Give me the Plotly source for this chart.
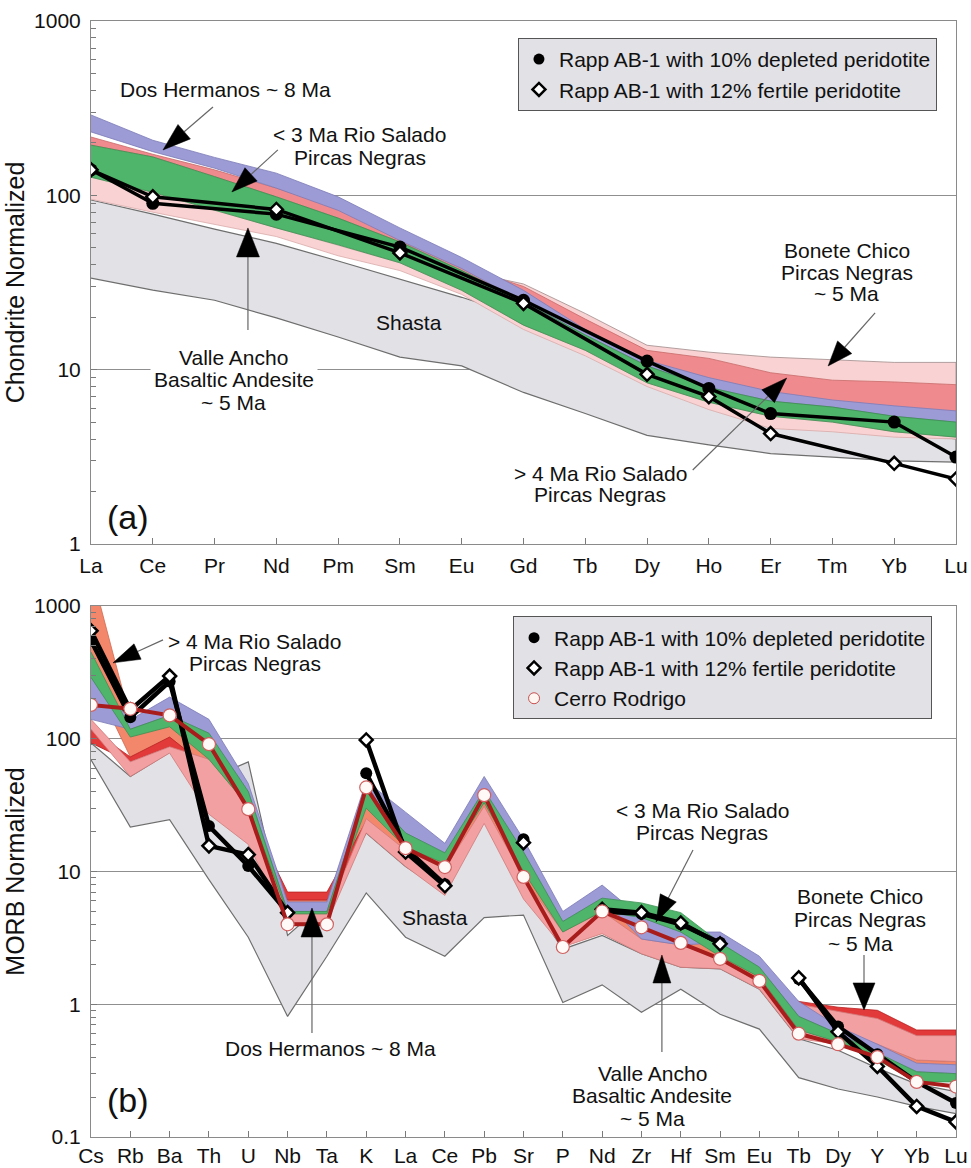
import math
import plotly.graph_objects as go

# ---------------- (a) chondrite-normalized REE ----------------
ree = ["La", "Ce", "Pr", "Nd", "Pm", "Sm", "Eu", "Gd", "Tb", "Dy", "Ho", "Er", "Tm", "Yb", "Lu"]

shasta_a_hi = [94, 78, 64, 53, 42, 33, 26, 20, 15, 11, 8.5, 6.3, 5.1, 4.4, 4.0]
shasta_a_lo = [33.5, 28.6, 25, 19.8, 15.4, 11.8, 10.5, 7.4, 5.6, 4.2, 3.7, 3.3, 3.15, 3.0, 2.95]
valle_a_hi = [127, 104, 82, 65, 52, 41, 28.5, 18, 12.9, 8.4, 6.5, 5.4, 5.0, 4.4, 4.1]
valle_a_lo = [95, 80, 68, 58, 45, 37, 27, 17, 12, 8.0, 5.9, 4.6, 4.4, 4.1, 4.0]
bonete_a_hi = [180, 150, 120, 95, 70, 52, 37, 31, 21, 13.8, 12.6, 11.8, 11.4, 11.0, 11.0]
bonete_a_lo = [130, 110, 90, 70, 55, 43, 30, 20, 13, 9, 7, 6, 5.5, 5, 4.5]
rs_old_a_hi = [216, 172, 140, 110, 84, 57, 39, 30, 19.5, 12.9, 11.6, 9.6, 8.7, 8.5, 8.2]
rs_old_a_lo = [194, 166, 128, 98, 74, 54, 37, 24.5, 15.8, 10.5, 7.9, 6.6, 6.1, 5.4, 5.0]
dos_a_hi = [289, 207, 165, 134, 98, 65, 44, 28.5, 17, 11.3, 9.0, 7.5, 6.7, 6.2, 5.8]
dos_a_lo = [231, 178, 143, 110, 82, 55, 38, 24.5, 15.8, 10.5, 7.9, 6.6, 6.1, 5.4, 5.0]
rs_young_a_hi = [194, 166, 128, 98, 74, 54, 37, 24.5, 15.8, 10.5, 7.9, 6.6, 6.1, 5.4, 5.0]
rs_young_a_lo = [127, 104, 82, 65, 52, 41, 28.5, 18, 12.9, 8.4, 6.5, 5.4, 5.0, 4.4, 4.1]
rapp10_a = [140, 90, None, 78, None, 50.5, None, 25, None, 11.2, 7.8, 5.6, None, 5.0, 3.15]
rapp12_a = [140, 98, None, 83, None, 46.7, None, 24, None, 9.4, 7.0, 4.3, None, 2.9, 2.36]

# ---------------- (b) MORB-normalized spider diagram ----------------
spider = ["Cs", "Rb", "Ba", "Th", "U", "Nb", "Ta", "K", "La", "Ce", "Pb", "Sr",
          "P", "Nd", "Zr", "Hf", "Sm", "Eu", "Tb", "Dy", "Y", "Yb", "Lu"]

shasta_b_hi = [93, 52, 79, 50, 67, 3.3, 6.0, 19.5, 10.9, 7.0, 24.6, 7.3, 2.6, 3.3, 2.4, 1.9, 1.85, 1.3, 0.55, 0.45, 0.33, 0.25, 0.22]
shasta_b_lo = [69.5, 21.6, 24.6, 8.7, 3.2, 0.81, 2.3, 6.9, 3.2, 2.3, 4.5, 4.7, 1.03, 1.4, 0.87, 1.3, 0.84, 0.65, 0.28, 0.23, 0.2, 0.17, 0.15]
rs_old_b_hi = [1870, 140, 150, 100, 38, 6.1, 6.1, 38, 18, 12.5, 36, 12, 4.0, 6.0, 4.5, 3.4, 2.8, 1.8, 0.9, 0.7, 0.52, 0.38, 0.37]
rs_old_b_lo = [300, 73, 90, 40, 18, 4.5, 4.5, 21, 11.5, 7, 24, 6.5, 2.8, 3.5, 2.5, 2.0, 1.9, 1.35, 0.6, 0.5, 0.45, 0.34, 0.33]
bonete_b_hi = [118, 73, 103, 60, 28, 7.0, 7.0, 24, 14, 10, 30, 8.5, 3.3, 4.8, 3.0, 2.7, 2.1, 1.45, 1.05, 0.95, 0.9, 0.64, 0.64]
bonete_b_lo = [93, 67, 87, 35, 18, 6.1, 6.1, 20, 11.5, 7, 24, 6.5, 2.8, 3.5, 2.5, 2.0, 1.9, 1.35, 0.7, 0.7, 0.6, 0.45, 0.45]
valle_b_hi = [140, 67, 87, 70, 31, 4.8, 4.8, 25, 14.5, 10.5, 31, 9, 3.5, 5.0, 3.1, 2.8, 2.2, 1.5, 1.0, 0.88, 0.78, 0.58, 0.58]
valle_b_lo = [118, 52, 78, 27, 16, 4.1, 4.1, 19.5, 10.9, 6.6, 23, 6.2, 2.7, 3.4, 2.4, 1.9, 1.85, 1.3, 0.55, 0.5, 0.5, 0.38, 0.37]
dos_b_hi = [290, 139, 206, 140, 46, 5.9, 5.9, 48, 28, 16.3, 52, 17.5, 5.0, 7.9, 4.5, 3.5, 3.5, 2.3, 1.05, 0.68, 0.5, 0.36, 0.35]
dos_b_lo = [140, 118, 150, 110, 40, 5.0, 5.0, 41, 19.5, 13.8, 41, 14, 4.2, 6.3, 3.1, 2.8, 2.9, 1.9, 0.81, 0.6, 0.43, 0.31, 0.3]
rs_young_b_hi = [450, 118, 150, 110, 40, 5.0, 5.0, 41, 19.5, 13.8, 41, 14, 4.2, 6.3, 5.8, 4.9, 2.9, 1.9, 0.81, 0.6, 0.43, 0.31, 0.3]
rs_young_b_lo = [290, 103, 123, 70, 31, 4.8, 4.8, 30, 15.2, 11.5, 33, 10, 3.5, 5.0, 4.5, 3.5, 2.3, 1.6, 0.64, 0.52, 0.38, 0.26, 0.26]
rapp10_b = [550, 145, 270, 22, 11, 4.9, None, 55, 15, 8.0, None, 17.5, None, 5.0, 4.8, 4.0, 2.9, None, 1.55, 0.68, 0.42, 0.26, 0.18]
rapp12_b = [650, 165, 297, 15.6, 13.4, 4.9, None, 98, 14, 7.8, None, 16.5, None, 5.2, 4.9, 4.1, 2.85, None, 1.58, 0.62, 0.34, 0.17, 0.13]
cerro = [180, 168, 150, 91, 29.5, 4.0, 4.0, 43, 15, 10.8, 37.6, 9.1, 2.7, 5.0, 3.8, 2.9, 2.2, 1.5, 0.6, 0.5, 0.4, 0.26, 0.24]

FONT = "Liberation Sans, Arial, Helvetica, sans-serif"
GRAY_FILL, GRAY_EDGE = "#e2e2e6", "#6e6e6e"
BLUE, GREEN = "#9c9bd6", "#4fb56b"
LIGHT_PINK, SALMON = "#f9d3d3", "#ef8b8e"
ORANGE, RED, PINK = "#f2876c", "#e23a3b", "#f3a0a2"

fig = go.Figure()


def band(cats, hi, lo, fill, edge, ax, width=0.8):
    xs = list(cats) + list(cats)[::-1]
    ys = list(hi) + list(lo)[::-1]
    fig.add_trace(go.Scatter(
        x=xs, y=ys, mode="lines", fill="toself", fillcolor=fill,
        line=dict(color=edge, width=width), hoverinfo="skip", showlegend=False,
        xaxis="x" + ax, yaxis="y" + ax))


# panel (a) envelopes, back to front
band(ree, shasta_a_hi, shasta_a_lo, GRAY_FILL, GRAY_EDGE, "", 1.2)
band(ree, valle_a_hi, valle_a_lo, LIGHT_PINK, "#d9a9a9", "")
band(ree, bonete_a_hi, bonete_a_lo, LIGHT_PINK, "#a08a8a", "")
band(ree, rs_old_a_hi, rs_old_a_lo, SALMON, "#c86a6a", "")
band(ree, dos_a_hi, dos_a_lo, BLUE, "#7c7bb6", "")
band(ree, rs_young_a_hi, rs_young_a_lo, GREEN, "#3c8f52", "")

fig.add_trace(go.Scatter(
    x=ree, y=rapp10_a, mode="lines+markers", connectgaps=True,
    line=dict(color="black", width=3.5),
    marker=dict(symbol="circle", size=13, color="black"),
    showlegend=False, hoverinfo="skip", xaxis="x", yaxis="y"))
fig.add_trace(go.Scatter(
    x=ree, y=rapp12_a, mode="lines+markers", connectgaps=True,
    line=dict(color="black", width=3.5),
    marker=dict(symbol="diamond", size=10, color="white", line=dict(color="black", width=2.5)),
    showlegend=False, hoverinfo="skip", xaxis="x", yaxis="y"))

# panel (b) envelopes, back to front
band(spider, shasta_b_hi, shasta_b_lo, GRAY_FILL, GRAY_EDGE, "2", 1.2)
band(spider, rs_old_b_hi, rs_old_b_lo, ORANGE, "#d06a50", "2")
band(spider, bonete_b_hi, bonete_b_lo, RED, "#b82020", "2")
band(spider, valle_b_hi, valle_b_lo, PINK, "#d07a7a", "2")
band(spider, dos_b_hi, dos_b_lo, BLUE, "#7c7bb6", "2")
band(spider, rs_young_b_hi, rs_young_b_lo, GREEN, "#3c8f52", "2")

fig.add_trace(go.Scatter(
    x=spider, y=rapp10_b, mode="lines+markers", connectgaps=False,
    line=dict(color="black", width=4.5),
    marker=dict(symbol="circle", size=12, color="black"),
    showlegend=False, hoverinfo="skip", xaxis="x2", yaxis="y2"))
fig.add_trace(go.Scatter(
    x=spider, y=rapp12_b, mode="lines+markers", connectgaps=False,
    line=dict(color="black", width=4.5),
    marker=dict(symbol="diamond", size=10, color="white", line=dict(color="black", width=2.5)),
    showlegend=False, hoverinfo="skip", xaxis="x2", yaxis="y2"))
fig.add_trace(go.Scatter(
    x=spider, y=cerro, mode="lines+markers",
    line=dict(color="#a81c1c", width=4),
    marker=dict(symbol="circle", size=13, color="#fffaf7", line=dict(color="#d06060", width=1.2)),
    showlegend=False, hoverinfo="skip", xaxis="x2", yaxis="y2"))

# legend entries
dep = dict(symbol="circle", size=11, color="black")
fer = dict(symbol="diamond", size=10, color="white", line=dict(color="black", width=2.5))
cr = dict(symbol="circle", size=11, color="#fff6f2", line=dict(color="#c85050", width=1))
for lg, ax in (("legend", ""), ("legend2", "2")):
    fig.add_trace(go.Scatter(x=[None], y=[None], mode="markers", marker=dep,
                             name="Rapp AB-1 with 10% depleted peridotite", legend=lg,
                             xaxis="x" + ax, yaxis="y" + ax))
    fig.add_trace(go.Scatter(x=[None], y=[None], mode="markers", marker=fer,
                             name="Rapp AB-1 with 12% fertile peridotite", legend=lg,
                             xaxis="x" + ax, yaxis="y" + ax))
fig.add_trace(go.Scatter(x=[None], y=[None], mode="markers", marker=cr,
                         name="Cerro Rodrigo", legend="legend2", xaxis="x2", yaxis="y2"))

# ---------------- labels and pointer arrows ----------------
annotations = []
shapes = []


def label(ax, x, value, text, size=21, bg=None):
    a = dict(xref="x" + ax, yref="y" + ax, x=x, y=math.log10(value), text=text,
             showarrow=False, xanchor="center", yanchor="middle",
             font=dict(family=FONT, size=size, color="#111"))
    if bg:
        a.update(bgcolor=bg, borderpad=3)
    annotations.append(a)


def pointer(ax, x, value, dx, dy, head_len, head_w):
    """Black arrow head whose tip sits on (x, value); thin gray stem toward (dx, dy) px."""
    n = math.hypot(dx, dy)
    ux, uy = dx / n, -dy / n
    px, py = -uy, ux
    bx, by = ux * head_len, uy * head_len
    c1 = (bx + px * head_w / 2, by + py * head_w / 2)
    c2 = (bx - px * head_w / 2, by - py * head_w / 2)
    common = dict(xref="x" + ax, yref="y" + ax, xsizemode="pixel", ysizemode="pixel",
                  xanchor=x, yanchor=value, type="path")
    shapes.append(dict(common, path=f"M{bx:.1f},{by:.1f} L{dx:.1f},{-dy:.1f}",
                       line=dict(color="#666", width=1.2)))
    shapes.append(dict(common, path=f"M0,0 L{c1[0]:.1f},{c1[1]:.1f} L{c2[0]:.1f},{c2[1]:.1f} Z",
                       fillcolor="black", line=dict(color="black", width=0.5)))


# panel (a)
label("", 2.18, 402, "Dos Hermanos ~ 8 Ma")
pointer("", 1.165, 182, 50, -43, 28, 19)
label("", 4.35, 222, "< 3 Ma Rio Salado")
label("", 4.35, 164, "Pircas Negras")
pointer("", 2.28, 104.6, 46, -42, 26, 18)
label("", 2.31, 8.73, "Basaltic Andesite", bg="white")
label("", 2.31, 11.7, "Valle Ancho", bg="white")
label("", 2.31, 6.44, "~ 5 Ma")
pointer("", 2.54, 65, 0, 102, 29, 23)
label("", 5.15, 18.7, "Shasta")
label("", 12.23, 48.5, "Bonete Chico")
label("", 12.23, 36.3, "Pircas Negras")
label("", 12.23, 27.2, "~ 5 Ma")
pointer("", 11.93, 10.5, 47, -53, 25, 19)
label("", 8.24, 2.55, "> 4 Ma Rio Salado")
label("", 8.24, 1.91, "Pircas Negras")
pointer("", 11.26, 8.95, -94, 92, 26, 18)
label("", 0.60, 1.43, "(a)", size=34)

# panel (b)
label("2", 4.17, 536, "> 4 Ma Rio Salado")
label("2", 4.17, 372, "Pircas Negras")
pointer("2", 0.56, 373, 50, -23, 27, 17)
label("2", 6.10, 0.468, "Dos Hermanos ~ 8 Ma")
pointer("2", 5.62, 5.31, 0, 125, 29, 22)
label("2", 8.75, 4.54, "Shasta")
label("2", 15.54, 29.0, "< 3 Ma Rio Salado")
label("2", 15.54, 19.5, "Pircas Negras")
pointer("2", 14.37, 4.17, 37, -72, 27, 18)
label("2", 14.27, 0.303, "Valle Ancho")
label("2", 14.27, 0.204, "Basaltic Andesite")
label("2", 14.27, 0.139, "~ 5 Ma")
pointer("2", 14.52, 2.35, 0, 97, 28, 18)
label("2", 19.56, 6.43, "Bonete Chico")
label("2", 19.56, 4.32, "Pircas Negras")
label("2", 19.56, 2.89, "~ 5 Ma")
pointer("2", 19.66, 0.906, 0, -55, 27, 22)
label("2", 0.94, 0.19, "(b)", size=34)

# ---------------- axes ----------------
def minor_vals(lo_exp, hi_exp):
    return [m * 10.0 ** e for e in range(lo_exp, hi_exp) for m in range(2, 10)]


xcommon = dict(type="category", ticks="inside", ticklen=6, tickcolor="#7a7a7a",
               showline=True, linecolor="#8a8a8a", linewidth=1, mirror=True,
               showgrid=False, automargin=False,
               tickfont=dict(family=FONT, size=21, color="#111"))
ycommon = dict(type="log", ticks="inside", ticklen=6, tickcolor="#7a7a7a",
               showline=True, linecolor="#8a8a8a", linewidth=1, mirror=True,
               showgrid=True, gridcolor="#8f8f8f", gridwidth=1, automargin=False,
               ticklabelstandoff=5,
               tickfont=dict(family=FONT, size=21, color="#111"))

fig.update_layout(
    width=971, height=1168,
    margin=dict(l=91, r=15, t=21, b=31),
    paper_bgcolor="white", plot_bgcolor="white",
    font=dict(family=FONT, size=21, color="#111"),
    xaxis=dict(xcommon, anchor="y", domain=[0, 1], range=[0, len(ree) - 1],
               ticklabelstandoff=3),
    yaxis=dict(ycommon, anchor="x", domain=[0.5314, 1], range=[0, 3],
               tickvals=[1, 10, 100, 1000], ticktext=["1", "10", "100", "1000"],
               minor=dict(tickvals=minor_vals(0, 3), ticks="inside", ticklen=5,
                          tickcolor="#7a7a7a", showgrid=False),
               title=dict(text="Chondrite Normalized", standoff=2,
                          font=dict(family=FONT, size=25))),
    xaxis2=dict(xcommon, anchor="y2", domain=[0, 1], range=[0, len(spider) - 1],
                ticklabelstandoff=0),
    yaxis2=dict(ycommon, anchor="x2", domain=[0, 0.4758], range=[-1, 3],
                tickvals=[0.1, 1, 10, 100, 1000], ticktext=["0.1", "1", "10", "100", "1000"],
                minor=dict(tickvals=minor_vals(-1, 3), ticks="inside", ticklen=5,
                           tickcolor="#7a7a7a", showgrid=False),
                title=dict(text="MORB Normalized", standoff=2,
                           font=dict(family=FONT, size=25))),
    legend=dict(x=0.4936, y=0.9848, xanchor="left", yanchor="top",
                bgcolor="#e1e1e6", bordercolor="#555", borderwidth=1,
                font=dict(family=FONT, size=21, color="#111"), tracegroupgap=0),
    legend2=dict(x=0.4879, y=0.4664, xanchor="left", yanchor="top",
                 bgcolor="#e1e1e6", bordercolor="#555", borderwidth=1,
                 font=dict(family=FONT, size=21, color="#111"), tracegroupgap=0),
    annotations=annotations,
    shapes=shapes,
)

fig.write_html("out.html")
